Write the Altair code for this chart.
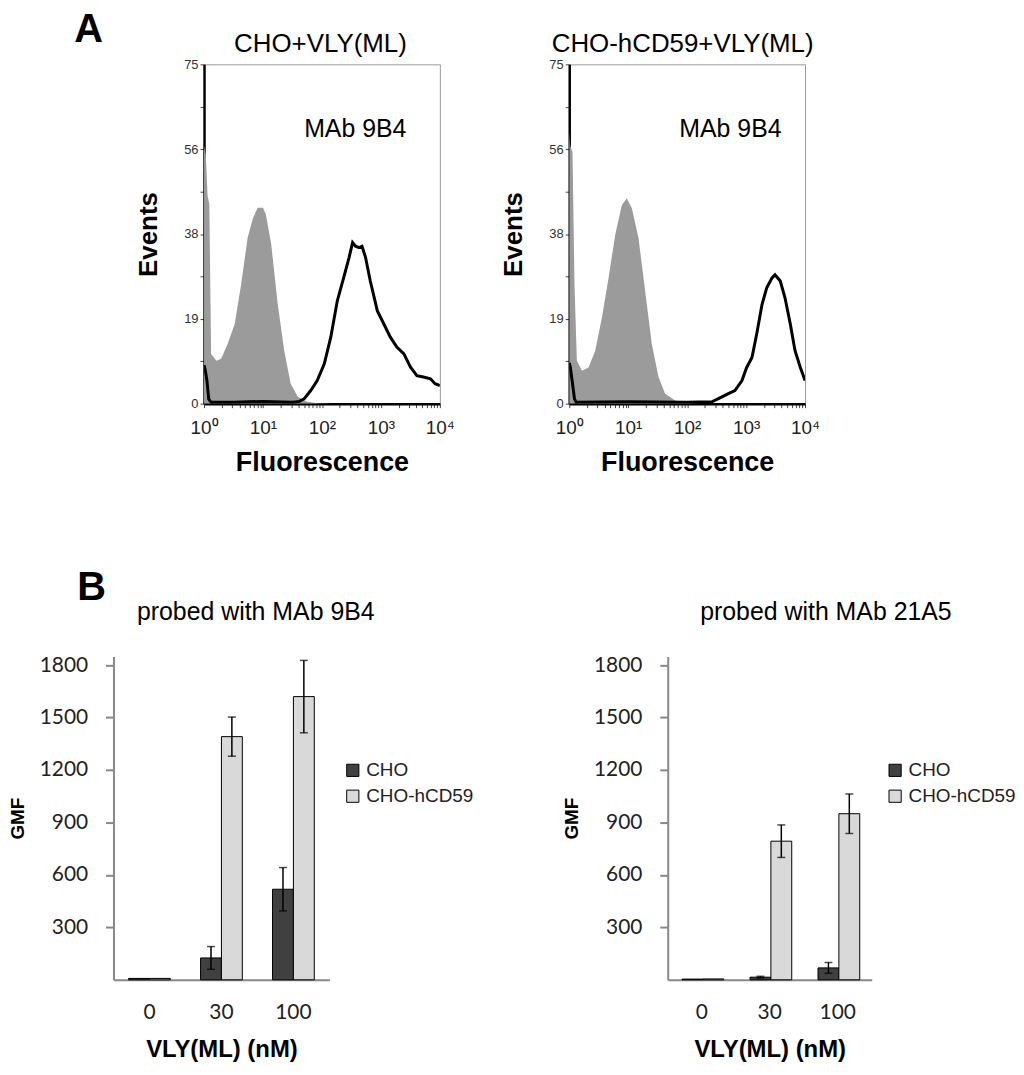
import altair as alt
import pandas as pd

# ---------------- Panel A: flow cytometry histograms ----------------
# log10(fluorescence) positions and event counts
a1_gray_log = [0, 0.03, 0.06, 0.09, 0.12, 0.21, 0.29, 0.40, 0.52, 0.63, 0.74, 0.83,
               0.91, 1.00, 1.05, 1.14, 1.25, 1.36, 1.47, 1.59, 1.75, 1.92, 2.2, 4.0]
a1_gray_ev = [57, 55, 46, 44, 11, 9.5, 9.9, 13.2, 17.6, 26.4, 36.7, 41,
              43.3, 43.3, 41.8, 35.2, 22, 11.7, 4.4, 1.5, 0.4, 0.1, 0, 0]
a1_line_log = [0, 0.02, 0.05, 0.08, 0.12, 0.5, 1.0, 1.5, 1.62, 1.70, 1.81, 1.92, 2.04,
               2.15, 2.26, 2.37, 2.46, 2.52, 2.57, 2.63, 2.68, 2.74, 2.82, 2.94, 3.05,
               3.16, 3.27, 3.39, 3.50, 3.61, 3.72, 3.84, 3.92, 4.0]
a1_line_ev = [8.5, 7.5, 5, 1, 0.3, 0.3, 0.5, 0.3, 0.5, 1.1, 2.9, 5.1, 8.8,
              14.7, 22.7, 27.9, 32.3, 35.6, 34.8, 34.5, 34.8, 32.3, 27.1, 20.5, 17.6,
              14.7, 12.5, 11, 8.1, 6.2, 5.9, 5.5, 4.4, 4.0]

a2_gray_log = [0, 0.017, 0.056, 0.090, 0.130, 0.215, 0.328, 0.441, 0.554, 0.667, 0.780,
               0.893, 0.977, 1.062, 1.175, 1.288, 1.401, 1.514, 1.627, 1.797, 1.966, 2.2, 4.0]
a2_gray_ev = [60, 57, 55.6, 26, 9.5, 7.3, 8, 11.7, 19, 27.8, 37.3,
              43.9, 45.4, 43.2, 36.6, 24.9, 13.2, 5.9, 2.2, 0.7, 0.2, 0, 0]
a2_line_log = [0, 0.02, 0.05, 0.09, 0.12, 1.0, 2.0, 2.42, 2.53, 2.70, 2.81, 2.93, 3.01,
               3.10, 3.18, 3.27, 3.35, 3.44, 3.49, 3.58, 3.66, 3.75, 3.83, 3.92, 4.0]
a2_line_ev = [9, 8, 5, 1, 0.3, 0.4, 0.3, 0.4, 1.1, 2.2, 2.9, 5.1, 8.0,
              10.2, 15.4, 21.9, 25.6, 27.8, 28.5, 27.1, 23.4, 17.6, 11.7, 8.0, 5.1]

x_ticks = [m * 10 ** k for k in range(4) for m in range(1, 10)] + [10000]
y_ticks = [i * 4.6875 for i in range(17)]

# ---------------- Panel B: GMF bar charts ----------------
doses = ["0", "30", "100"]
series = ["CHO", "CHO-hCD59"]
b1_cho = [8, 125, 518]
b1_cho_err = [0, 65, 124]
b1_hcd = [8, 1391, 1620]
b1_hcd_err = [0, 112, 207]
b2_cho = [4, 15, 68]
b2_cho_err = [0, 5, 31]
b2_hcd = [5, 793, 950]
b2_hcd_err = [0, 93, 113]
gmf_ticks = [300, 600, 900, 1200, 1500, 1800]

FONT = "Liberation Sans"


def text_layer(txt, x, y, size, weight="normal"):
    return alt.Chart(pd.DataFrame({"t": [txt]})).mark_text(
        font=FONT, fontSize=size, fontWeight=weight, color="black",
        align="center", baseline="middle"
    ).encode(x=alt.value(x), y=alt.value(y), text="t:N")


def hist_panel(title, title_x, ann_x, gray_log, gray_ev, line_log, line_ev):
    g = pd.DataFrame({"fl": [10 ** v for v in gray_log], "ev": gray_ev})
    l = pd.DataFrame({"fl": [10 ** v for v in line_log], "ev": line_ev})
    xs = alt.Scale(type="log", domain=[1, 10000], nice=False)
    ys = alt.Scale(domain=[0, 75], nice=False, zero=True)
    xax = alt.Axis(
        values=x_ticks,
        labelExpr="indexof([1,10,100,1000,10000], datum.value) >= 0 ? '10' + ['⁰','¹','²','³','⁴'][round(log(datum.value)/LN10)] : ''",
        labelOverlap=False, labelFlush=False, labelFont=FONT, labelFontSize=19,
        labelColor="#222", labelPadding=11, tickColor="#444", tickSize=4,
        domainColor="black", domainWidth=2.5, grid=False,
        title="Fluorescence", titleFont=FONT, titleFontSize=27, titleFontWeight="bold",
        titleColor="black", titlePadding=12,
    )
    yax = alt.Axis(
        values=y_ticks,
        labelExpr="(round(datum.value*100) % 1875 == 0) ? '' + round(datum.value) : ''",
        labelOverlap=False, labelFlush=False, labelFont=FONT, labelFontSize=13,
        labelColor="#333", labelPadding=2, tickColor="#444", tickSize=4,
        domainColor="black", domainWidth=2.5, grid=False,
        title="Events", titleFont=FONT, titleFontSize=26, titleFontWeight="bold",
        titleColor="black", titlePadding=22,
    )
    area = alt.Chart(g).mark_area(color="#9b9b9b", clip=True).encode(
        x=alt.X("fl:Q", scale=xs, axis=xax),
        y=alt.Y("ev:Q", scale=ys, axis=yax),
    )
    line = alt.Chart(l).mark_line(color="black", strokeWidth=3, clip=True).encode(
        x=alt.X("fl:Q", scale=xs), y=alt.Y("ev:Q", scale=ys)
    )
    layers = [area, line,
              text_layer("MAb 9B4", ann_x, 65, 25),
              text_layer(title, title_x, -20, 26)]
    return alt.layer(*layers).properties(
        width=237, height=341,
        view=alt.ViewBackground(stroke="#999", strokeWidth=1),
    )


def bar_panel(title, title_x, cho, cho_err, hcd, hcd_err, width, leg_x, letter=None):
    df = pd.DataFrame({
        "dose": doses * 2,
        "series": [series[0]] * 3 + [series[1]] * 3,
        "gmf": cho + hcd,
        "err": cho_err + hcd_err,
    })
    df["lo"] = df["gmf"] - df["err"]
    df["hi"] = df["gmf"] + df["err"]
    ed = df[df["err"] > 0]
    xsc = alt.Scale(domain=doses, paddingInner=0.42, paddingOuter=0.21)
    ysc = alt.Scale(domain=[0, 1850], nice=False)
    xax = alt.Axis(
        labelAngle=0, ticks=False, labelFont="Lato", labelFontSize=21, labelColor="#222",
        labelPadding=22, domainColor="#888", domainWidth=2,
        title="VLY(ML) (nM)", titleFont=FONT, titleFontSize=24, titleFontWeight="bold",
        titleColor="black", titlePadding=15,
    )
    yax = alt.Axis(
        values=gmf_ticks, format="d", labelFont="Lato", labelFontSize=21, labelColor="#222",
        labelPadding=18, tickColor="#888", tickWidth=2, tickSize=8,
        domainColor="#888", domainWidth=2, grid=False,
        title="GMF", titleFont=FONT, titleFontSize=19, titleFontWeight="bold",
        titleColor="black", titlePadding=12,
    )
    xo = alt.XOffset("series:N", sort=series, scale=alt.Scale(domain=series))
    bars = alt.Chart(df).mark_bar(stroke="black", strokeWidth=1).encode(
        x=alt.X("dose:N", sort=doses, scale=xsc, axis=xax),
        xOffset=xo,
        y=alt.Y("gmf:Q", scale=ysc, axis=yax),
        color=alt.Color(
            "series:N", sort=series,
            scale=alt.Scale(domain=series, range=["#404040", "#d9d9d9"]),
            legend=alt.Legend(
                orient="none", legendX=leg_x, legendY=105, title=None,
                symbolType="square", symbolSize=150, symbolStrokeColor="black",
                symbolStrokeWidth=1, labelFont=FONT, labelFontSize=19,
                labelColor="#222", rowPadding=6, labelOffset=4, padding=0,
                labelLimit=300,
            ),
        ),
    )
    rule = alt.Chart(ed).mark_rule(color="black", strokeWidth=1.5).encode(
        x=alt.X("dose:N", sort=doses, scale=xsc), xOffset=xo,
        y=alt.Y("lo:Q", scale=ysc), y2="hi:Q",
    )
    cap_lo = alt.Chart(ed).mark_tick(color="black", thickness=1.5, size=8).encode(
        x=alt.X("dose:N", sort=doses, scale=xsc), xOffset=xo,
        y=alt.Y("lo:Q", scale=ysc),
    )
    cap_hi = alt.Chart(ed).mark_tick(color="black", thickness=1.5, size=8).encode(
        x=alt.X("dose:N", sort=doses, scale=xsc), xOffset=xo,
        y=alt.Y("hi:Q", scale=ysc),
    )
    layers = [bars, rule, cap_lo, cap_hi, text_layer(title, title_x, -45, 25)]
    if letter:
        layers.append(text_layer(letter, -22, -69, 40, "bold"))
    return alt.layer(*layers).properties(
        width=width, height=325,
        view=alt.ViewBackground(stroke=None),
    )


# small spacer cell carrying the panel letter "A"
a0 = text_layer("A", -25, -34, 40, "bold").properties(
    width=1, height=341, view=alt.ViewBackground(stroke=None))
a1 = hist_panel("CHO+VLY(ML)", 117, 152, a1_gray_log, a1_gray_ev, a1_line_log, a1_line_ev)
a2 = hist_panel("CHO-hCD59+VLY(ML)", 114, 162, a2_gray_log, a2_gray_ev, a2_line_log, a2_line_ev)
b1 = bar_panel("probed with MAb 9B4", 143, b1_cho, b1_cho_err, b1_hcd, b1_hcd_err, 217, 231, letter="B")
b2 = bar_panel("probed with MAb 21A5", 159, b2_cho, b2_cho_err, b2_hcd, b2_hcd_err, 205, 219)

top = alt.hconcat(a0, alt.hconcat(a1, a2, spacing=45), spacing=21)
bottom = alt.hconcat(b1, b2, spacing=89).resolve_scale(color="independent")
chart = alt.vconcat(top, bottom, spacing=92).properties(
    padding={"left": 0, "top": 0, "right": 0, "bottom": 0}
).configure(font=FONT).configure_axis(grid=False)

chart.save("out.html", embed_options={"renderer": "svg", "actions": False})
